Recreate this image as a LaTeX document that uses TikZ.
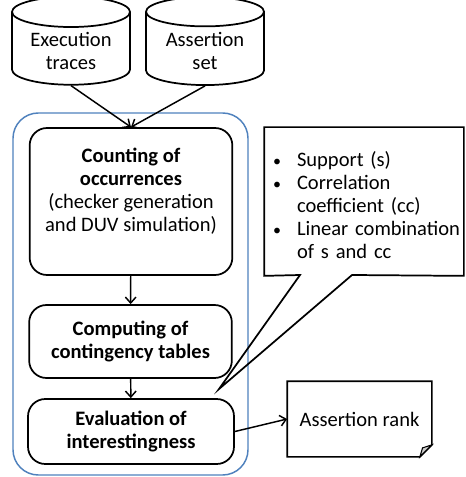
\documentclass[tikz,border=0pt]{standalone}
\usepackage{fontspec}
\setmainfont{Carlito}
\usepackage{enumitem}
\usetikzlibrary{shapes.geometric,arrows.meta}

\definecolor{frameblue}{RGB}{79,129,189}

\begin{document}
\begin{tikzpicture}[x=0.75pt, y=-0.75pt, line width=1.3pt]
    \tikzstyle{marrs}=[line width=1.1pt,-{Straight Barb[length=4.5pt,width=8pt]}]
    \tikzstyle{dbnode}=[draw, cylinder, shape border rotate=90, aspect=0.35, minimum width=88.5pt, minimum height=66pt, align=center, inner sep=2pt]
    \tikzstyle{pnode}=[draw, rounded corners=13pt, align=center, inner sep=2pt]
    \def\boxw{152pt}

    \fontsize{15.4}{17.25}\selectfont

    \useasboundingbox (0,0) rectangle (465,477);

    % inputs
    \node[dbnode] (traces) at (71,51) {Execution\\traces};
    \node[dbnode] (asserts) at (205,51) {Assertion\\set};

    % mining steps
    \draw[frameblue, line width=1.1pt, rounded corners=19pt] (13,113) rectangle (248,475);

    \node[pnode, minimum width=\boxw, minimum height=110.25pt] (count) at (131,201.5)
        {\textbf{Counting of}\\\textbf{occurrences}\\(checker generation\\and DUV simulation)\\\mbox{}};
    \node[pnode, font=\bfseries, minimum width=\boxw, minimum height=54.75pt] (comp) at (130.5,341.5)
        {Computing of\\contingency tables};
    \node[pnode, font=\bfseries, minimum width=154.5pt, minimum height=48.75pt] (eval) at (131,431.5)
        {Evaluation of\\interestingness};

    % callout
    \node[minimum width=148.5pt, minimum height=110.25pt, text width=148.5pt, inner xsep=0pt, align=left] (notes) at (364,201.5)
        {\begin{itemize}[nosep, leftmargin=24pt, labelsep=12pt, label={\fontsize{12}{12}\selectfont\textbullet}]
            \item Support (s)
            \item Correlation coefficient (cc)
            \item Linear combination of s and cc
         \end{itemize}};
    \coordinate (tip) at (219,389);
    \draw (notes.north west) -- (notes.north east) -- (notes.south east) -- (352,275)
        -- (tip) -- (300,275) -- (notes.south west) -- cycle;

    % output
    \node[minimum width=107.25pt, minimum height=55.5pt] (rank) at (359.5,419) {Assertion rank};
    \draw (rank.north west) -- (rank.north east) -- ([yshift=9pt]rank.south east)
        -- ([xshift=-9pt]rank.south east) -- (rank.south west) -- cycle;
    \filldraw[fill=gray!40, line width=0.8pt] ([yshift=9pt]rank.south east)
        -- ([xshift=-7pt,yshift=6.75pt]rank.south east) -- ([xshift=-9pt]rank.south east) -- cycle;

    \draw[marrs] (traces.south) -- (count.north);
    \draw[marrs] (asserts.south) -- (count.north);
    \draw[marrs] (count) -- (comp);
    \draw[marrs] (comp) -- (eval);
    \draw[marrs] (eval.east) -- (rank.west);

\end{tikzpicture}
\end{document}
